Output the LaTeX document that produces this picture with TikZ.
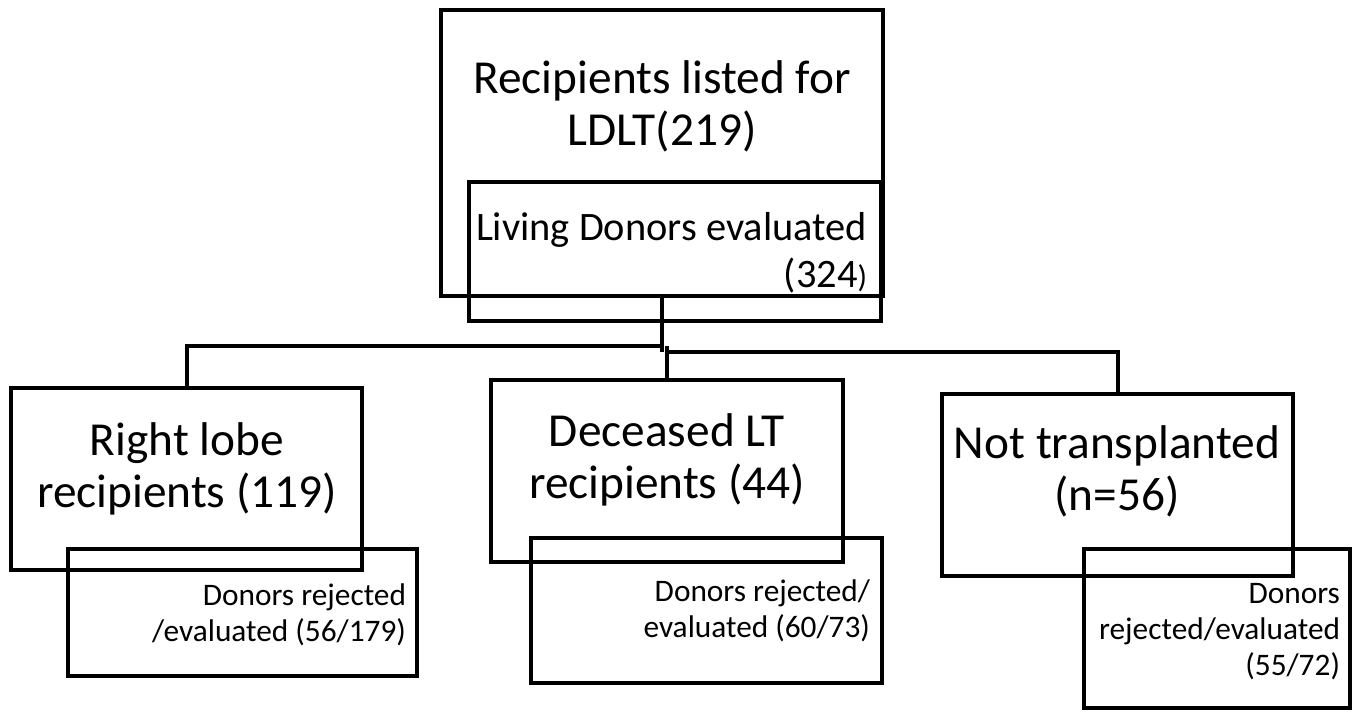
\documentclass[tikz,border=0pt]{standalone}
\usepackage{fontspec}
\setmainfont{Carlito}
\tikzset{every picture/.style={line width=3pt}}
\tikzset{
  box/.style={draw, rectangle, inner sep=0pt, outer sep=0pt},
  bigtext/.style={font=\fontsize{35.5}{39}\selectfont, align=center, inner sep=0.75pt, anchor=base},
  midtext/.style={font=\fontsize{30.3}{35}\selectfont, align=right, inner sep=0.75pt, anchor=base east},
  smalltext/.style={font=\fontsize{23.5}{27}\selectfont, align=right, inner sep=0.75pt, anchor=base east}
}

\begin{document}
\begin{tikzpicture}[x=0.75pt,y=0.75pt,yscale=-1,xscale=1]
\useasboundingbox (0,0) rectangle (1361,711);

%Shape: Rectangle [top]
\node [box, minimum width=442*0.75pt, minimum height=286*0.75pt] (top) at (662,153) {};
%Shape: Rectangle [top inner]
\node [box, minimum width=412*0.75pt, minimum height=139*0.75pt] (topin) at (675,251.5) {};

%Shape: Rectangle [right lobe]
\node [box, minimum width=351*0.75pt, minimum height=182*0.75pt] (rl) at (186.5,479) {};
\node [box, minimum width=349*0.75pt, minimum height=127*0.75pt] (rldon) at (242.5,612.5) {};
%Shape: Rectangle [deceased]
\node [box, minimum width=352*0.75pt, minimum height=182*0.75pt] (dec) at (667,471) {};
\node [box, minimum width=351*0.75pt, minimum height=145*0.75pt] (decdon) at (706.5,610.5) {};
%Shape: Rectangle [not transplanted]
\node [box, minimum width=351*0.75pt, minimum height=182*0.75pt] (nt) at (1117.5,485) {};
\node [box, minimum width=266*0.75pt, minimum height=159*0.75pt] (ntdon) at (1217,628.5) {};

%Straight Lines
\coordinate (splitl) at (663,346);
\coordinate (splitr) at (667,352);
\draw (top.south) -- (top.south |- splitr);
\draw (splitl) -| (rl.north);
\draw (splitr |- splitl) -- (dec.north);
\draw (splitr) -| (nt.north);

% Text Node
\node [bigtext] (toptxt) at (662,145) {Recipients listed for\\LDLT(219)};
% Text Node
\node [midtext] (topintxt) at (870,287) {Living Donors evaluated\\(324{\fontsize{23.5}{27}\selectfont)}};
% Text Node
\node [bigtext] (rltxt) at (187,507) {Right lobe\\recipients (119)};
% Text Node
\node [smalltext] (rldontxt) at (409,641) {Donors rejected\\/evaluated (56/179)};
% Text Node
\node [bigtext] (dectxt) at (667,498) {Deceased LT\\recipients (44)};
% Text Node
\node [smalltext] (decdontxt) at (873,637) {Donors rejected/\\evaluated (60/73)};
% Text Node
\node [bigtext] (nttxt) at (1117,510) {Not transplanted\\(n=56)};
% Text Node
\node [smalltext] (ntdontxt) at (1343,675) {Donors\\rejected/evaluated\\(55/72)};

\end{tikzpicture}
\end{document}
